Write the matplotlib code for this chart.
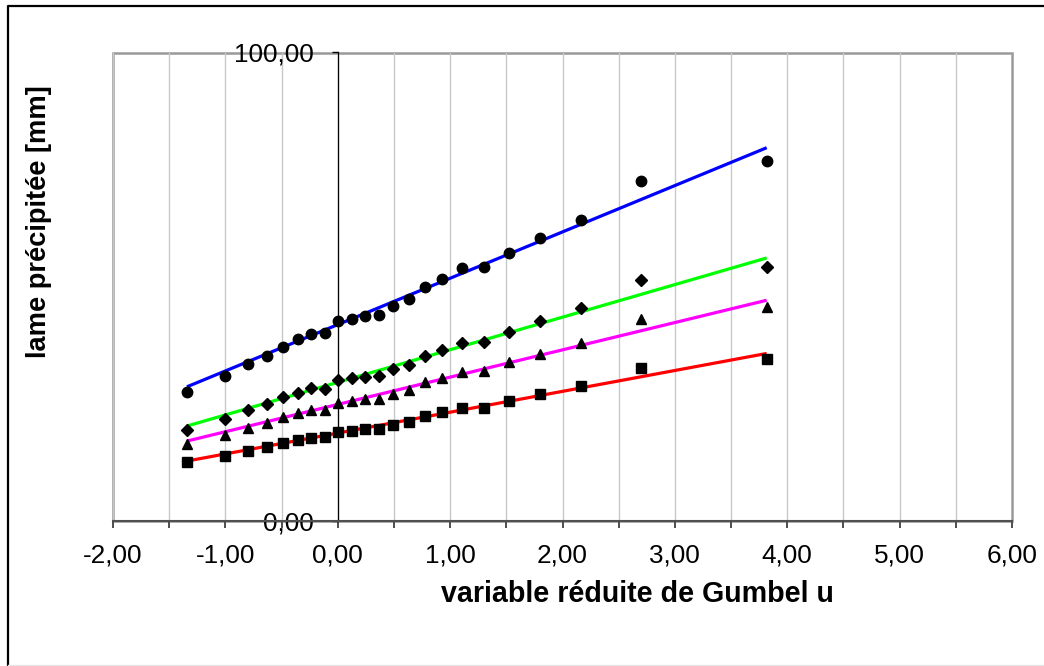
import matplotlib
matplotlib.use("Agg")
import matplotlib.pyplot as plt
from matplotlib.ticker import MultipleLocator, FuncFormatter
from matplotlib.lines import Line2D
from matplotlib.patches import Rectangle

plt.rcParams['font.family'] = ['Liberation Sans', 'DejaVu Sans']

# Gumbel reduced variate u (x values)
u = [-1.342, -1.004, -0.797, -0.633, -0.490, -0.358, -0.234, -0.114,
     0.005, 0.123, 0.243, 0.367, 0.495, 0.630, 0.774, 0.930,
     1.102, 1.297, 1.525, 1.801, 2.162, 2.697, 3.817]

# observed values (mm)
y_circle = [27.6, 30.9, 33.5, 35.2, 37.2, 38.9, 39.9, 40.2,
            42.6, 43.1, 43.7, 43.9, 45.9, 47.3, 50.0, 51.6,
            53.9, 54.2, 57.3, 60.4, 64.3, 72.6, 76.8]
y_diamond = [19.4, 21.8, 23.7, 24.9, 26.4, 27.4, 28.3, 28.2,
             30.1, 30.6, 30.8, 30.9, 32.5, 33.4, 35.2, 36.5,
             37.9, 38.2, 40.4, 42.6, 45.4, 51.4, 54.3]
y_triangle = [16.4, 18.3, 19.9, 21.0, 22.1, 23.0, 23.6, 23.7,
              25.2, 25.7, 26.0, 26.0, 27.1, 27.9, 29.6, 30.6,
              31.8, 32.0, 33.9, 35.7, 38.1, 43.1, 45.7]
y_square = [12.5, 13.9, 14.9, 15.8, 16.6, 17.2, 17.8, 17.9,
            19.0, 19.3, 19.6, 19.6, 20.5, 21.2, 22.4, 23.2,
            24.2, 24.2, 25.6, 27.1, 28.9, 32.6, 34.5]

# fitted Gumbel lines: value = intercept + slope * u
fit_intercept = [41.92, 29.60, 24.88, 18.77]
fit_slope = [9.892, 6.954, 5.826, 4.452]
fit_colors = ['#0000FF', '#00FF00', '#FF00FF', '#FF0000']

series = [y_circle, y_diamond, y_triangle, y_square]
markers = ['o', 'D', '^', 's']
msizes = [7.5, 5.8, 7.5, 7.0]

x_ticks = [-2, -1, 0, 1, 2, 3, 4, 5, 6]
y_ticks = [0, 100]

W, H = 1044, 666
fig = plt.figure(figsize=(W / 100, H / 100), dpi=100)
ax = fig.add_axes([113 / W, 1 - 521 / H, (1012 - 113) / W, (521 - 52.5) / H])

ax.set_xlim(-2, 6)
ax.set_ylim(0, 100)

# fitted lines
u_ends = [u[0], u[-1]]
for a, b, c in zip(fit_intercept, fit_slope, fit_colors):
    ax.plot(u_ends, [a + b * v for v in u_ends], color=c, lw=2.3,
            solid_capstyle='butt', zorder=3)

# observations
for ys, m, ms in zip(series, markers, msizes):
    ax.plot(u, ys, linestyle='none', marker=m, ms=ms, color='black',
            mec='black', zorder=4)

# grid & ticks
ax.xaxis.set_major_locator(MultipleLocator(1))
ax.xaxis.set_minor_locator(MultipleLocator(0.5))
ax.set_xticks(x_ticks)
ax.set_yticks(y_ticks)
ax.grid(True, which='both', axis='x', color='#c8c8c8', lw=1.0, zorder=0)
ax.grid(False, axis='y')

fmt = FuncFormatter(lambda v, p: f"{v:.2f}".replace('.', ','))
ax.xaxis.set_major_formatter(fmt)
ax.yaxis.set_major_formatter(fmt)

for s in ['top', 'right']:
    ax.spines[s].set_visible(False)
ax.spines['left'].set_position(('data', 0))
ax.spines['left'].set_color('black')
ax.spines['left'].set_linewidth(0.9)
ax.spines['left'].set_zorder(2)
ax.spines['bottom'].set_color('#505050')
ax.spines['bottom'].set_linewidth(1.5)

ax.tick_params(axis='x', which='both', direction='out', length=5, width=1.3,
               color='#404040', labelsize=18.8, pad=11)
ax.tick_params(axis='y', which='major', direction='out', length=4.5, width=1.0,
               color='black', labelsize=18.8, pad=13)

# plot-area border (grey)
ax.add_patch(Rectangle((0, 0), 1, 1, transform=ax.transAxes, fill=False,
                       edgecolor='#999999', lw=1.8, zorder=1, clip_on=False))

# axis titles
fig.text(637 / W, 1 - 602 / H, "variable réduite de Gumbel u", ha='center',
         va='baseline', fontsize=20.6, fontweight='bold')
fig.text(39 / W, 1 - 222 / H, "lame précipitée [mm]", ha='center',
         va='center', rotation=90, fontsize=19.6, fontweight='bold')

# outer chart border (left & top visible)
fig.add_artist(Line2D([8 / W, 8 / W, 1.01], [0, 1 - 5.7 / H, 1 - 5.7 / H],
                      transform=fig.transFigure, color='black', lw=1.6))
fig.add_artist(Line2D([8 / W, 1], [1 - 665 / H, 1 - 665 / H],
                      transform=fig.transFigure, color='#e6e6e6', lw=1))

fig.savefig("out.png", dpi=100)
